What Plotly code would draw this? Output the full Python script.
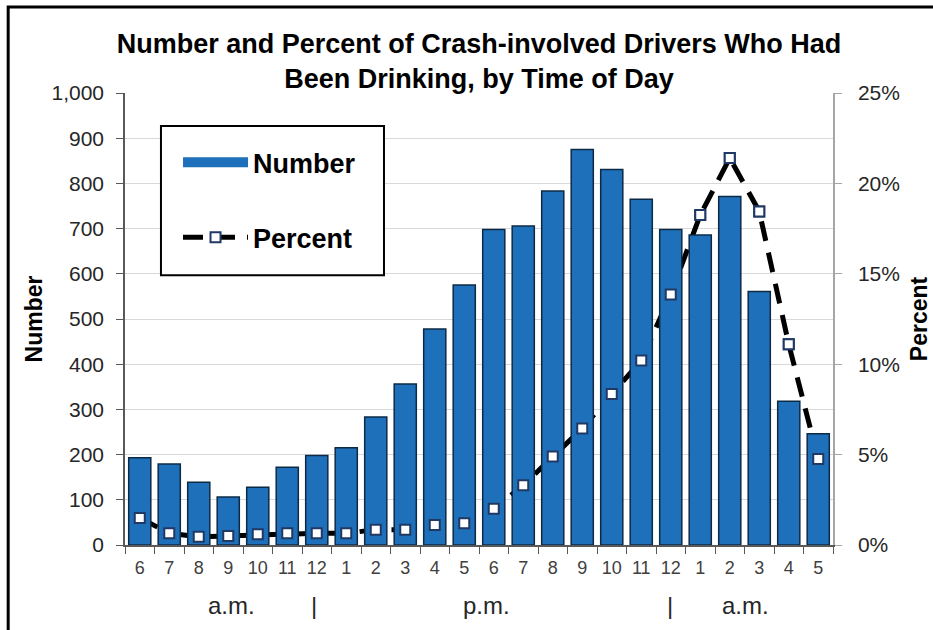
import plotly.graph_objects as go

# ---- data ----
hours = ["6 a.m.", "7 a.m.", "8 a.m.", "9 a.m.", "10 a.m.", "11 a.m.", "12 noon",
         "1 p.m.", "2 p.m.", "3 p.m.", "4 p.m.", "5 p.m.", "6 p.m.", "7 p.m.", "8 p.m.",
         "9 p.m.", "10 p.m.", "11 p.m.", "12 midnight", "1 a.m.", "2 a.m.", "3 a.m.",
         "4 a.m.", "5 a.m."]
tick_labels = ["6", "7", "8", "9", "10", "11", "12", "1", "2", "3", "4", "5",
               "6", "7", "8", "9", "10", "11", "12", "1", "2", "3", "4", "5"]
number = [193, 179, 139, 106, 128, 172, 198, 215, 283, 356, 478, 575,
          698, 706, 783, 875, 831, 765, 698, 686, 771, 561, 318, 246]
percent = [1.5, 0.65, 0.45, 0.5, 0.6, 0.65, 0.65, 0.65, 0.85, 0.85, 1.1, 1.2,
           2.0, 3.3, 4.9, 6.45, 8.35, 10.2, 13.85, 18.25, 21.4, 18.45, 11.1, 4.75]
period_labels = ["a.m.", "|", "p.m.", "|", "a.m."]
period_pos = [3.1, 5.9, 11.75, 17.97, 20.55]

FONT = "Liberation Sans, Arial, sans-serif"
BAR_COLOR = "#1f70bb"
BAR_EDGE = "#0d2a45"

fig = go.Figure()

# legend-only swatch for the bars (wide bar symbol as in the original legend)
fig.add_trace(go.Scatter(
    x=[None], y=[None], name="<b>Number</b>", mode="lines",
    line=dict(color=BAR_COLOR, width=15),
    xaxis="x", yaxis="y", legendgroup="a", legendrank=1,
))

# dashed line (drawn behind the bars)
fig.add_trace(go.Scatter(
    x=hours, y=percent, name="<b>Percent</b>", mode="lines+markers",
    line=dict(color="black", width=5, dash="20px,12px"),
    marker=dict(symbol="square", size=10, color="white",
                line=dict(color="#1f3864", width=2)),
    xaxis="x", yaxis="y", legendgroup="b", legendrank=2,
))

# bars
fig.add_trace(go.Bar(
    x=hours, y=number, name="Number", showlegend=False,
    marker=dict(color=BAR_COLOR, line=dict(color=BAR_EDGE, width=1.5)),
    xaxis="x", yaxis="y2",
))

# markers on top of the bars
fig.add_trace(go.Scatter(
    x=hours, y=percent, mode="markers", showlegend=False,
    marker=dict(symbol="square", size=10, color="white",
                line=dict(color="#1f3864", width=2)),
    xaxis="x", yaxis="y3",
))

for txt, pos in zip(period_labels, period_pos):
    fig.add_annotation(
        x=pos, y=-0.133, xref="x", yref="paper", text=txt, showarrow=False,
        font=dict(family=FONT, size=24, color="#262626"),
        xanchor="center", yanchor="middle",
    )

# outer frame
fig.add_shape(type="rect", xref="paper", yref="paper",
              x0=-0.165, y0=-0.6, x1=1.5, y1=1.19,
              line=dict(color="black", width=3), layer="above")
# legend box
fig.add_shape(type="rect", xref="paper", yref="paper",
              x0=0.0508, y0=0.597, x1=0.3658, y1=0.927,
              fillcolor="white", line=dict(color="black", width=2), layer="above")

fig.update_layout(
    width=933, height=630,
    margin=dict(l=125, r=100, t=93, b=85, autoexpand=False),
    paper_bgcolor="white", plot_bgcolor="white",
    font=dict(family=FONT, color="#262626"),
    title=dict(
        text="<b>Number and Percent of Crash-involved Drivers Who Had<br>Been Drinking, by Time of Day</b>",
        x=0.5, xref="paper", xanchor="center",
        y=1 - 53 / 630, yref="container", yanchor="middle",
        font=dict(family=FONT, size=27, color="black"),
    ),
    bargap=0.25,
    showlegend=True,
    legend=dict(
        x=0.0749, y=0.9, xanchor="left", yanchor="top",
        bgcolor="rgba(0,0,0,0)", borderwidth=0,
        font=dict(family=FONT, size=27, color="black"),
        tracegroupgap=37, traceorder="grouped",
        itemwidth=65,
    ),
    xaxis=dict(
        type="category", categoryorder="array", categoryarray=hours,
        tickmode="array", tickvals=hours, ticktext=tick_labels,
        tickson="boundaries", ticks="outside", ticklen=7, tickcolor="#595959",
        showline=True, linecolor="#595959", linewidth=1.5,
        tickfont=dict(family=FONT, size=18, color="#404040"),
        ticklabelstandoff=6, tickangle=0, automargin=False,
        range=[-0.5, 23.5], showgrid=False,
    ),
    yaxis=dict(
        side="right", range=[0, 25], dtick=5, ticksuffix="%",
        showgrid=False, zeroline=False,
        showline=True, linecolor="#a6a6a6", linewidth=1.5,
        ticks="outside", ticklen=7, tickcolor="#a6a6a6",
        tickfont=dict(family=FONT, size=21, color="#262626"),
        ticklabelstandoff=12, automargin=False,
        title=dict(text="<b>Percent</b>", font=dict(family=FONT, size=23, color="black"),
                   standoff=12),
    ),
    yaxis2=dict(
        overlaying="y", side="left", range=[0, 1000], dtick=100,
        tickformat=",", showgrid=True, gridcolor="#d9d9d9", gridwidth=1,
        zeroline=False, showline=True, linecolor="#595959", linewidth=1.5,
        ticks="outside", ticklen=7, tickcolor="#595959",
        tickfont=dict(family=FONT, size=21, color="#262626"),
        ticklabelstandoff=8, automargin=False,
        title=dict(text="<b>Number</b>", font=dict(family=FONT, size=23, color="black"),
                   standoff=2),
    ),
    yaxis3=dict(overlaying="y", range=[0, 25], visible=False),
)

fig.write_html("out.html", config={"displayModeBar": False},
               post_script="document.body.style.margin='0';")
